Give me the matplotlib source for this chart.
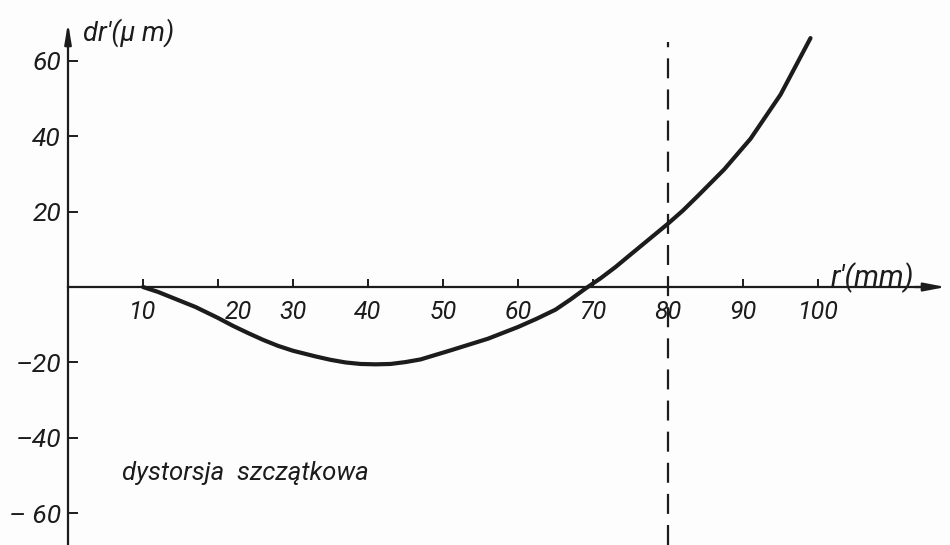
import numpy as np
import matplotlib
matplotlib.use("Agg")
import matplotlib.pyplot as plt
import matplotlib.transforms as mtransforms

# values
r_mm = [10, 12, 15, 17, 20, 22, 24, 26, 28, 30, 33, 35, 37, 39, 41, 43, 45, 47,
        51, 56, 60, 62.5, 65, 67, 69, 71, 73, 75, 77.5, 80, 82, 84, 87.5, 91, 95, 99]
dr_um = [0, -1.3, -3.7, -5.3, -8.2, -10.3, -12.2, -14.0, -15.6, -16.9, -18.4,
         -19.3, -20.0, -20.4, -20.5, -20.4, -19.9, -19.2, -16.8, -13.7, -10.6,
         -8.4, -6.0, -3.3, -0.4, 2.3, 5.3, 8.6, 12.7, 16.8, 20.3, 24.2, 31.2,
         39.3, 51.0, 66.0]

x_ticks = [10, 20, 30, 40, 50, 60, 70, 80, 90, 100]
x_labels = ["10", "20", "30", "40", "50", "60", "70", "80", "90", "100"]
y_ticks = [-60, -40, -20, 20, 40, 60]
y_labels = ["\u2013 60", "\u201340", "\u201320", "20", "40", "60"]
r_limit = 80

ink = "#1c1c1c"
font = dict(family=["Roboto", "DejaVu Sans"], style="italic")

fig = plt.figure(figsize=(9.5, 5.45), dpi=100, facecolor="#fdfdfd")
ax = fig.add_axes([0, 0, 1, 1])
ax.set_facecolor("#fdfdfd")
ax.set_xlim(-9.07, 117.6)
ax.set_ylim(-68.4, 76.1)

# axes through the origin
for s in ["top", "right"]:
    ax.spines[s].set_visible(False)
ax.spines["left"].set_position(("data", 0))
ax.spines["bottom"].set_position(("data", 0))
ax.spines["left"].set_bounds(-68.4, 68)
ax.spines["bottom"].set_bounds(0, 115)
for s in ["left", "bottom"]:
    ax.spines[s].set_color(ink)
    ax.spines[s].set_linewidth(1.6)

ax.annotate("", xy=(117.4, 0), xytext=(112.5, 0),
            arrowprops=dict(arrowstyle="-|>,head_length=1.3,head_width=0.25",
                            color=ink, lw=1.6))
ax.annotate("", xy=(0, 70.8), xytext=(0, 65.5),
            arrowprops=dict(arrowstyle="-|>,head_length=1.2,head_width=0.2",
                            color=ink, lw=1.6))

ax.set_xticks(x_ticks)
ax.set_xticklabels(x_labels, fontsize=18, color=ink, **font)
ax.set_yticks(y_ticks)
ax.set_yticklabels(y_labels, fontsize=19, color=ink, **font)
ax.tick_params(axis="x", direction="in", length=6, width=1.4, color=ink, pad=9)
ax.tick_params(axis="y", direction="in", length=7, width=1.4, color=ink, pad=5)

# the "20" label sits a bit to the right, clear of the curve
lbl20 = ax.get_xticklabels()[1]
lbl20.set_transform(lbl20.get_transform() +
                    mtransforms.ScaledTranslation(0.2, 0, fig.dpi_scale_trans))

# residual distortion curve
ax.plot(r_mm, dr_um, color=ink, lw=3.0, solid_capstyle="round", solid_joinstyle="round")

# boundary of the useful field
ax.plot([r_limit, r_limit], [-68.4, 65], color=ink, lw=1.6, dashes=(9, 5))

ax.text(2.0, 67.5, "dr'(\u03bc m)", fontsize=19.5, color=ink, va="center", ha="left", **font)
ax.text(101.7, 2.6, "r'(mm)", fontsize=21, color=ink, va="center", ha="left", **font)
ax.text(7.2, -49.2, "dystorsja  szcz\u0105tkowa", fontsize=18.5, color=ink,
        va="center", ha="left", **font)

fig.savefig("out.png", dpi=100, facecolor=fig.get_facecolor())
